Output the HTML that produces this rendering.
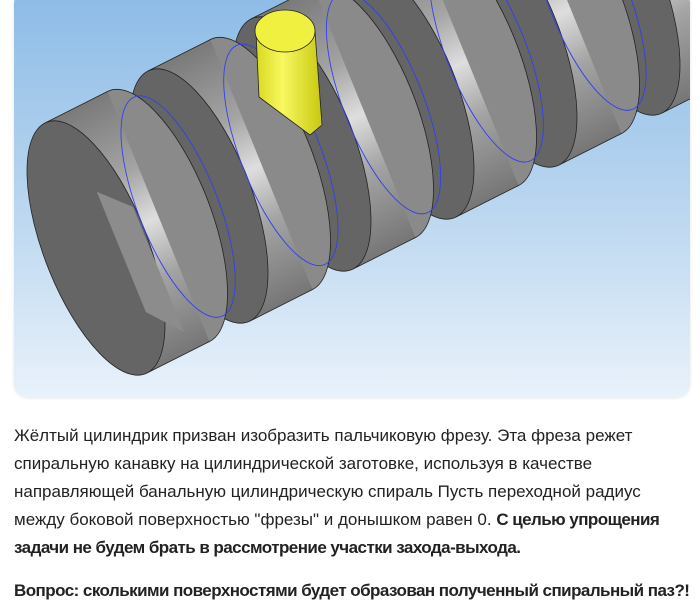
<!DOCTYPE html>
<html><head><meta charset="utf-8"><style>
html,body{margin:0;padding:0;background:#fff;width:700px;height:615px;overflow:hidden}
.img{position:absolute;left:14px;top:-10px;width:676px;height:408px;border-radius:14px;overflow:hidden;background:linear-gradient(#8cbbe6,#bcd7f0 55%,#e9f2fb);box-shadow:0 0 3px rgba(0,0,0,.12)}
.t{position:absolute;left:14px;top:422px;font-family:"Liberation Sans",sans-serif;font-size:17px;color:#222;line-height:28px;letter-spacing:0;white-space:nowrap}
.b{font-weight:bold;letter-spacing:-0.55px}
</style></head><body>
<div class="img">
<svg width="676" height="408" viewBox="14 -10 676 408" xmlns="http://www.w3.org/2000/svg">
<defs>
<linearGradient id="band" x1="0" y1="0" x2="0" y2="1">
<stop offset="0" stop-color="#7a7a7a"/><stop offset=".3" stop-color="#a4a4a4"/><stop offset=".5" stop-color="#dedede"/><stop offset=".7" stop-color="#a4a4a4"/><stop offset="1" stop-color="#767676"/>
</linearGradient>
<linearGradient id="yl" x1="0" y1="0" x2="1" y2="0">
<stop offset="0" stop-color="#d8d820"/><stop offset=".4" stop-color="#f8f860"/><stop offset="1" stop-color="#c8c810"/>
</linearGradient>
<g id="ring">
<ellipse cx="70" cy="0" rx="52" ry="135" fill="#8a8a8a"/>
<rect x="0" y="-135" width="70" height="270" fill="url(#band)" stroke="none"/>
<line x1="0" y1="-135" x2="70" y2="-135"/><line x1="0" y1="135" x2="70" y2="135"/>
<ellipse cx="0" cy="0" rx="52" ry="135" fill="#656565"/>
</g>
</defs>
<g transform="matrix(0.893,-0.45,0.378,0.926,96,248)">
<rect x="0" y="-68" width="800" height="136" fill="url(#band)" stroke="#222" stroke-width="0.8"/>
</g>
<g stroke="#222" stroke-width="0.8">
<use href="#ring" transform="matrix(0.893,-0.45,0.378,0.926,611,-12)"/>
<use href="#ring" transform="matrix(0.893,-0.45,0.378,0.926,508,40)"/>
<use href="#ring" transform="matrix(0.893,-0.45,0.378,0.926,405,92)"/>
<use href="#ring" transform="matrix(0.893,-0.45,0.378,0.926,302,144)"/>
<use href="#ring" transform="matrix(0.893,-0.45,0.378,0.926,199,196)"/>
<use href="#ring" transform="matrix(0.893,-0.45,0.378,0.926,96,248)"/>
<g transform="matrix(0.893,-0.45,0.378,0.926,96,248)">
<path d="M22,-50 L22,80 L50,115 L50,-20 Z" fill="#8c8c8c" stroke="none"/>
</g>
</g>
<g fill="none" stroke="#3040ee" stroke-width="0.9">
<g transform="matrix(0.893,-0.45,0.378,0.926,96,248)">
<ellipse cx="92" cy="0" rx="40" ry="118"/><ellipse cx="207" cy="0" rx="40" ry="118"/><ellipse cx="322" cy="0" rx="40" ry="118"/><ellipse cx="437" cy="0" rx="40" ry="118"/><ellipse cx="552" cy="0" rx="40" ry="118"/>
</g></g>
<g stroke="#222" stroke-width="0.8">
<path d="M256,32 L259,97 L310,135 L322,125 L315,32 Z" fill="url(#yl)"/>
<ellipse cx="285" cy="31" rx="30" ry="21" fill="#f0f040"/>
</g>
</svg>
</div>
<div class="t">Жёлтый цилиндрик призван изобразить пальчиковую фрезу. Эта фреза режет<br>спиральную канавку на цилиндрической заготовке, используя в качестве<br>направляющей банальную цилиндрическую спираль Пусть переходной радиус<br>между боковой поверхностью "фрезы" и донышком равен 0. <span class="b">С целью упрощения</span><br><span class="b">задачи не будем брать в рассмотрение участки захода-выхода.</span><br><div style="height:15px"></div><span class="b">Вопрос: сколькими поверхностями будет образован полученный спиральный паз?!</span></div>
</body></html>
